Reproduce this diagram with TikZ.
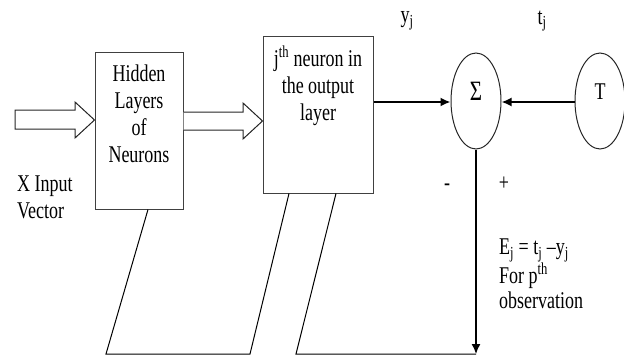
\documentclass[tikz,border=0pt]{standalone}
\usepackage{fontspec}
\setmainfont{Liberation Serif}
\newfontfamily\tf[FakeStretch=0.75]{Liberation Serif}
\usetikzlibrary{shapes.geometric,arrows.meta,calc}
\begin{document}
\begin{tikzpicture}[x=1pt,y=-1pt,
  txt/.style={inner sep=0pt, font=\tf\fontsize{24}{27}\selectfont, align=center},
  box/.style={draw=black!75, line width=1pt, inner sep=0pt},
  oval/.style={draw=black!85, line width=1pt, ellipse, minimum width=50pt, minimum height=96pt, inner sep=0pt, font=\tf\fontsize{24}{27}\selectfont},
  hollow/.style={draw=black!85, line width=1pt, fill=white},
  flow/.style={line width=1.8pt, -{Latex[length=10pt,width=9pt]}},
  thinline/.style={line width=1pt}]
\useasboundingbox (0,0) rectangle (624,356);

% boxes
\node[box, minimum width=88pt, minimum height=157pt] (hid) at (139,130.5) {};
\node[txt] (hidt) at (139,114) {Hidden\\Layers\\of\\Neurons};
\node[box, minimum width=110pt, minimum height=157pt] (out) at (318,114.5) {};
\node[txt] (outt) at (318,85.5) {j\textsuperscript{th} neuron in\\the output\\layer};

% ellipses
\node[oval] (sig) at (476,101) {\raisebox{1pt}[0pt][0pt]{\fontsize{28}{28}\selectfont Σ}};
\node[oval] (T) at (600,101) {\raisebox{2pt}[0pt][0pt]{T}};

% hollow arrows
\draw[hollow] (15,110) -- (75,110) -- (75,102) -- (hid.west |- 0,120) -- (75,138) -- (75,129) -- (15,129) -- cycle;
\draw[hollow] (hid.east |- 0,112) -- (243,112) -- (243,103) -- (out.west |- 0,121) -- (243,139) -- (243,130) -- (hid.east |- 0,130);

% signal arrows
\draw[flow] (out.east |- 0,102) -- (sig.west |- 0,102);
\draw[flow] (T.west |- 0,102) -- (sig.east |- 0,102);

% feedback
\coordinate (c1) at (476,354);
\coordinate (c2) at (296,354);
\draw[flow, line width=1.5pt] (sig.south) -- (c1);
\draw[thinline] (c1) -- (c2) -- (out.south -| 336,0);
\draw[thinline] (hid.south -| 148,0) -- (106,354) -- (250,354) -- (out.south -| 289,0);

% labels
\node[txt] (yj) at (407,21) {y\textsubscript{j}};
\node[txt] (tj) at (542,21) {t\textsubscript{j}};
\node[txt] (minus) at (447,187) {-};
\node[txt] (plus) at (504,184) {+};
\node[txt, align=left, anchor=west, font=\tf\fontsize{24}{24.5}\selectfont] (err) at (499,274) {E\textsubscript{j} = t\textsubscript{j} –y\textsubscript{j}\\For p\textsuperscript{th}\\observation};
\node[txt, align=left, anchor=west] (xin) at (17,197) {X Input\\Vector};
\end{tikzpicture}
\end{document}
